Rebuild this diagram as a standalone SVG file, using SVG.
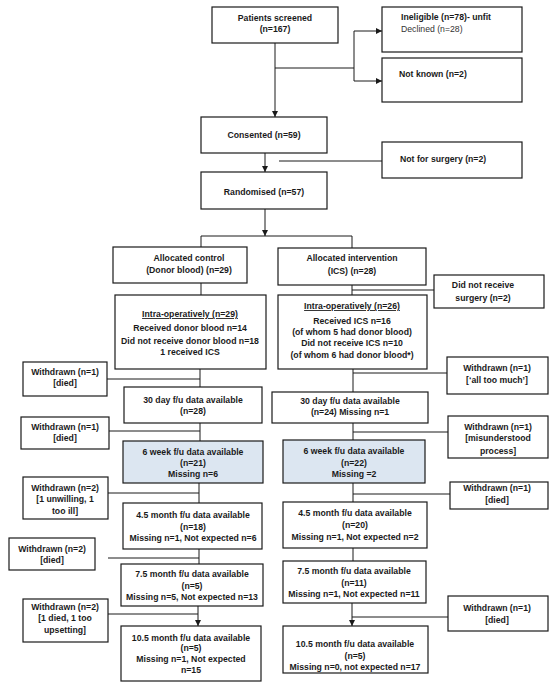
<svg xmlns="http://www.w3.org/2000/svg" width="550" height="688" viewBox="0 0 550 688">
<defs>
<style>
.b{fill:#fff;stroke:#1a1a1a;stroke-width:1.2}
.f{fill:#dce6f1;stroke:#1a1a1a;stroke-width:1.2}
text{font-family:"Liberation Sans",Arial,sans-serif;font-size:8.7px;font-weight:bold;fill:#1a1a1a}
.c{text-anchor:middle}
.n{font-weight:normal;fill:#333}
.l{fill:none;stroke:#1a1a1a;stroke-width:1}
</style>
<marker id="a" viewBox="0 0 8 8" refX="8" refY="4" markerWidth="6" markerHeight="6" markerUnits="userSpaceOnUse" orient="auto"><path d="M0,0L8,4L0,8z" fill="#1a1a1a"/></marker>
</defs>
<rect width="550" height="688" fill="#fff"/>
<g id="connectors" class="l">
<path d="M275,43V117" marker-end="url(#a)"/>
<path d="M275,68H354M354,31V81"/>
<path d="M354,31H382" marker-end="url(#a)"/>
<path d="M354,81H382" marker-end="url(#a)"/>
<path d="M265,153V172" marker-end="url(#a)"/>
<path d="M279,161H382"/>
<path d="M265,209V236" marker-end="url(#a)"/>
<path d="M201,247V236H352V248"/>
<path d="M201,283V295"/>
<path d="M352,285V295M352,290H434"/>
<path d="M200,369V387M107,379H200"/>
<path d="M353,369V392M353,373H447"/>
<path d="M200,423V441M109,431H200"/>
<path d="M353,423V440M353,432H448"/>
<path d="M199,483V503M108,493H199"/>
<path d="M353,483V502M353,494H450"/>
<path d="M199,549V564M108,558H199"/>
<path d="M353,548V561"/>
<path d="M198,606V626" marker-end="url(#a)"/>
<path d="M108,614H198"/>
<path d="M352,603V626" marker-end="url(#a)"/>
<path d="M352,617H448"/>
</g>
<g id="screened"><rect class="b" x="212" y="7" width="126" height="36"/><text class="c" x="275" y="21">Patients screened</text><text class="c" x="275" y="32">(n=167)</text></g>
<g id="ineligible"><rect class="b" x="382" y="7" width="140" height="45"/><text x="401" y="20">Ineligible (n=78)- unfit</text><text class="n" x="401" y="32">Declined (n=28)</text></g>
<g id="notknown"><rect class="b" x="382" y="58" width="140" height="44"/><text x="399" y="77">Not known (n=2)</text></g>
<g id="consented"><rect class="b" x="201" y="117" width="126" height="36"/><text class="c" x="264" y="138">Consented (n=59)</text></g>
<g id="notsurgery"><rect class="b" x="382" y="142" width="140" height="36"/><text x="400" y="162">Not for surgery (n=2)</text></g>
<g id="randomised"><rect class="b" x="201" y="172" width="126" height="37"/><text class="c" x="264" y="195">Randomised (n=57)</text></g>
<g id="control"><rect class="b" x="113" y="247" width="134" height="36"/><text class="c" x="189" y="261">Allocated control</text><text class="c" x="189" y="273">(Donor blood) (n=29)</text></g>
<g id="intervention"><rect class="b" x="278" y="248" width="148" height="37"/><text class="c" x="352" y="261">Allocated intervention</text><text class="c" x="352" y="274">(ICS) (n=28)</text></g>
<g id="notreceived"><rect class="b" x="434" y="275" width="110" height="33"/><text class="c" x="483" y="288">Did not receive</text><text class="c" x="483" y="301">surgery (n=2)</text></g>
<g id="intraL"><rect class="b" x="115" y="295" width="151" height="74"/><text class="c" x="190" y="317" text-decoration="underline">Intra-operatively (n=29)</text><text class="c" x="190" y="331">Received donor blood n=14</text><text class="c" x="190" y="344">Did not receive donor blood n=18</text><text class="c" x="190" y="355">1 received ICS</text></g>
<g id="intraR"><rect class="b" x="278" y="295" width="149" height="74"/><text class="c" x="352" y="309" text-decoration="underline">Intra-operatively (n=26)</text><text class="c" x="352" y="324">Received ICS n=16</text><text class="c" x="352" y="335">(of whom 5 had donor blood)</text><text class="c" x="352" y="346">Did not receive ICS n=10</text><text class="c" x="352" y="358">(of whom 6 had donor blood*)</text></g>
<g id="wdL1"><rect class="b" x="23" y="362" width="84" height="34"/><text class="c" x="65" y="375">Withdrawn (n=1)</text><text class="c" x="65" y="386">[died]</text></g>
<g id="day30L"><rect class="b" x="124" y="387" width="138" height="36"/><text class="c" x="193" y="403">30 day f/u data available</text><text class="c" x="193" y="414">(n=28)</text></g>
<g id="wdR1"><rect class="b" x="447" y="357" width="101" height="37"/><text class="c" x="497" y="371">Withdrawn (n=1)</text><text class="c" x="497" y="383">[‘all too much’]</text></g>
<g id="day30R"><rect class="b" x="272" y="392" width="156" height="31"/><text class="c" x="350" y="404">30 day f/u data available</text><text class="c" x="350" y="415">(n=24) Missing n=1</text></g>
<g id="wdL2"><rect class="b" x="21" y="417" width="88" height="32"/><text class="c" x="65" y="430">Withdrawn (n=1)</text><text class="c" x="65" y="441">[died]</text></g>
<g id="wdR2"><rect class="b" x="448" y="416" width="100" height="42"/><text class="c" x="498" y="430">Withdrawn (n=1)</text><text class="c" x="498" y="441">[misunderstood</text><text class="c" x="498" y="454">process]</text></g>
<g id="wk6L"><rect class="f" x="123" y="441" width="140" height="42"/><text class="c" x="193" y="455">6 week f/u data available</text><text class="c" x="193" y="466">(n=21)</text><text class="c" x="193" y="477">Missing n=6</text></g>
<g id="wk6R"><rect class="f" x="283" y="440" width="142" height="43"/><text class="c" x="354" y="454">6 week f/u data available</text><text class="c" x="354" y="466">(n=22)</text><text class="c" x="354" y="477">Missing =2</text></g>
<g id="wdL3"><rect class="b" x="23" y="477" width="85" height="42"/><text class="c" x="65" y="491">Withdrawn (n=2)</text><text class="c" x="65" y="502">[1 unwilling, 1</text><text class="c" x="65" y="514">too ill]</text></g>
<g id="wdR3"><rect class="b" x="450" y="482" width="98" height="27"/><text class="c" x="497" y="491">Withdrawn (n=1)</text><text class="c" x="497" y="503">[died]</text></g>
<g id="m45L"><rect class="b" x="123" y="503" width="139" height="46"/><text class="c" x="193" y="518">4.5 month f/u data available</text><text class="c" x="193" y="530">(n=18)</text><text class="c" x="193" y="541">Missing n=1, Not expected n=6</text></g>
<g id="m45R"><rect class="b" x="283" y="502" width="144" height="46"/><text class="c" x="355" y="516">4.5 month f/u data available</text><text class="c" x="355" y="528">(n=20)</text><text class="c" x="355" y="540">Missing n=1, Not expected n=2</text></g>
<g id="wdL4"><rect class="b" x="9" y="538" width="86" height="32"/><text class="c" x="52" y="552">Withdrawn (n=2)</text><text class="c" x="52" y="563">[died]</text></g>
<g id="m75L"><rect class="b" x="121" y="564" width="142" height="42"/><text class="c" x="192" y="577">7.5 month f/u data available</text><text class="c" x="192" y="589">(n=5)</text><text class="c" x="192" y="600">Missing n=5, Not expected n=13</text></g>
<g id="m75R"><rect class="b" x="283" y="561" width="143" height="42"/><text class="c" x="354" y="574">7.5 month f/u data available</text><text class="c" x="354" y="586">(n=11)</text><text class="c" x="354" y="597">Missing n=1, Not expected n=11</text></g>
<g id="wdL5"><rect class="b" x="23" y="599" width="85" height="43"/><text class="c" x="65" y="610">Withdrawn (n=2)</text><text class="c" x="65" y="621">[1 died, 1 too</text><text class="c" x="65" y="633">upsetting]</text></g>
<g id="wdR4"><rect class="b" x="448" y="596" width="100" height="35"/><text class="c" x="497" y="611">Withdrawn (n=1)</text><text class="c" x="497" y="623">[died]</text></g>
<g id="m105L"><rect class="b" x="121" y="626" width="140" height="55"/><text class="c" x="191" y="641">10.5 month f/u data available</text><text class="c" x="191" y="651">(n=5)</text><text class="c" x="191" y="662">Missing n=1, Not expected</text><text class="c" x="191" y="673">n=15</text></g>
<g id="m105R"><rect class="b" x="283" y="626" width="145" height="47"/><text class="c" x="355" y="647">10.5 month f/u data available</text><text class="c" x="355" y="659">(n=5)</text><text class="c" x="355" y="670">Missing n=0, not expected n=17</text></g>
</svg>
